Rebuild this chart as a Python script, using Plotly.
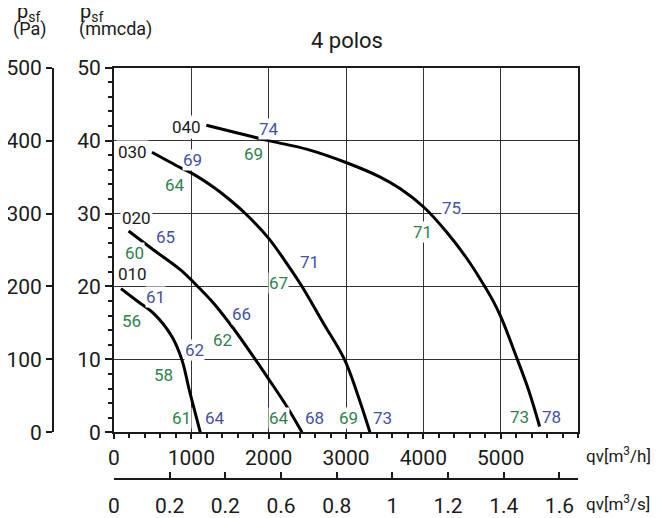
import plotly.graph_objects as go

# ---------------- data (qv in m3/h, psf in mmcda) ----------------
c010_q = [90, 300, 512, 750, 879, 978, 1116]
c010_p = [19.7, 18.0, 16.3, 13.1, 9.9, 5.6, 0.0]

c020_q = [189, 512, 857, 1073, 1288, 1547, 1827, 2000, 2237, 2431]
c020_p = [27.6, 25.0, 22.3, 20.1, 17.7, 14.2, 10.0, 7.3, 3.5, 0.0]

c030_q = [491, 857, 1009, 1288, 1461, 1698, 2000, 2237, 2431, 2700, 2980, 3150, 3310]
c030_p = [38.4, 36.3, 35.5, 33.6, 32.2, 30.0, 26.6, 23.1, 20.0, 15.1, 10.0, 5.2, 0.0]

c040_q = [1194, 2000, 2500, 3000, 3443, 3703, 4004, 4306, 4565, 4737, 4888, 5000, 5219, 5361, 5504]
c040_p = [42.1, 40.0, 38.8, 37.0, 35.0, 33.4, 30.9, 27.4, 23.8, 21.0, 18.3, 15.9, 9.9, 5.8, 0.8]

curves = [(c010_q, c010_p), (c020_q, c020_p), (c030_q, c030_p), (c040_q, c040_p)]

# labels: text, qv, psf
model_labels = [("010", 240, 21.7), ("020", 297, 29.4), ("030", 240, 38.5), ("040", 935, 41.9)]
blue_labels = [("61", 543, 18.5), ("62", 1042, 11.3), ("64", 1310, 2.0),
               ("65", 672, 26.8), ("66", 1655, 16.2), ("68", 2590, 2.0),
               ("69", 1009, 37.4), ("71", 2526, 23.4), ("73", 3466, 2.0),
               ("74", 1999, 41.6), ("75", 4358, 30.7), ("78", 5661, 2.06)]
green_labels = [("56", 220, 15.3), ("58", 641, 7.9), ("61", 870, 2.0),
                ("60", 266, 24.6), ("62", 1397, 12.6), ("64", 2138, 2.0),
                ("64", 793, 33.9), ("67", 2129, 20.5), ("69", 3034, 2.0),
                ("69", 1805, 38.2), ("71", 3983, 27.5), ("73", 5245, 2.06)]

x_ticks = [0, 1000, 2000, 3000, 4000, 5000]
y_ticks = [0, 10, 20, 30, 40, 50]
pa_ticks = [0, 100, 200, 300, 400, 500]
ms_ticks = [0, 0.2, 0.4, 0.6, 0.8, 1.0, 1.2, 1.4, 1.6]
ms_ticktext = ["0", "0.2", "0.2", "0.6", "0.8", "1", "1.2", "1.4", "1.6"]

QMAX = 6000
PMAX = 50

# ---------------- figure ----------------
OFF = 8                      # page body margin in the browser
W, H = 660 - OFF, 518 - OFF
ML, MR, MT, MB = 32, 82, 12, 12
PW, PH = W - ML - MR, H - MT - MB

def px(sx):
    """screen x (px) -> paper x"""
    return (sx - OFF - ML) / PW

def py(sy):
    """screen y (px) -> paper y"""
    return (H - MB - (sy - OFF)) / PH

FONT = "Roboto, 'DejaVu Sans', sans-serif"
INK = "#1a1a1a"
GRID = "#333333"
BLUE = "#4650a8"
GREEN = "#2f7f52"

fig = go.Figure()
for q, p in curves:
    fig.add_trace(go.Scatter(x=q, y=p, mode="lines",
                             line=dict(color="black", width=3, shape="spline", smoothing=1.0),
                             showlegend=False, hoverinfo="skip"))
# helper traces so that the extra axes are drawn
fig.add_trace(go.Scatter(x=[0, QMAX / 3600], y=[0, 0], xaxis="x2", yaxis="y",
                         mode="markers", marker=dict(opacity=0), showlegend=False, hoverinfo="skip"))
fig.add_trace(go.Scatter(x=[0, 0], y=[0, PMAX * 10], xaxis="x", yaxis="y2",
                         mode="markers", marker=dict(opacity=0), showlegend=False, hoverinfo="skip"))

dom_x = [px(114), px(578)]
dom_y = [py(432.3), py(67.7)]

TF = dict(size=21)

fig.update_layout(
    width=W, height=H,
    margin=dict(l=ML, r=MR, t=MT, b=MB, autoexpand=False),
    paper_bgcolor="white", plot_bgcolor="white",
    font=dict(family=FONT, size=20, color=INK),
    xaxis=dict(domain=dom_x, range=[0, QMAX], tickmode="array", tickvals=x_ticks,
               showgrid=True, gridcolor=GRID, gridwidth=1, automargin=False,
               showline=True, linecolor=INK, linewidth=2, mirror=True,
               ticks="outside", ticklen=5, tickwidth=1.5, tickcolor=INK,
               minor=dict(tickmode="linear", tick0=0, dtick=200, ticklen=4,
                          tickwidth=1.5, tickcolor=INK, showgrid=False),
               zeroline=False, tickfont=TF),
    yaxis=dict(domain=dom_y, range=[0, PMAX], tickmode="array", tickvals=y_ticks,
               showgrid=True, gridcolor=GRID, gridwidth=1, automargin=False,
               showline=True, linecolor=INK, linewidth=2, mirror=True,
               ticks="outside", ticklen=7, tickwidth=1.5, tickcolor=INK,
               minor=dict(tickmode="linear", tick0=0, dtick=2, ticklen=4,
                          tickwidth=1.5, tickcolor=INK, showgrid=False),
               zeroline=False, tickfont=TF),
    yaxis2=dict(overlaying="y", anchor="free", position=px(53), side="left",
                range=[0, PMAX * 10], tickmode="array", tickvals=pa_ticks,
                showgrid=False, zeroline=False, showline=True, linecolor=INK, linewidth=2,
                ticks="outside", ticklen=6, tickwidth=1.5, tickcolor=INK, automargin=False,
                tickfont=TF),
    xaxis2=dict(overlaying="x", anchor="free", position=py(479), side="bottom",
                range=[0, QMAX / 3600], tickmode="array", tickvals=ms_ticks,
                ticktext=ms_ticktext, automargin=False, ticklabelstandoff=8,
                showgrid=False, zeroline=False, showline=True, linecolor=INK, linewidth=2,
                ticks="inside", ticklen=6, tickwidth=1.5, tickcolor=INK,
                tickfont=TF),
)

ann = []
for t, q, p in model_labels:
    ann.append(dict(x=q, y=p, xref="x", yref="y", text=t, showarrow=False,
                    font=dict(size=17, color=INK), bgcolor="white", borderpad=1))
for t, q, p in blue_labels:
    ann.append(dict(x=q, y=p, xref="x", yref="y", text=t, showarrow=False,
                    font=dict(size=17, color=BLUE), bgcolor="white", borderpad=0))
for t, q, p in green_labels:
    ann.append(dict(x=q, y=p, xref="x", yref="y", text=t, showarrow=False,
                    font=dict(size=17, color=GREEN), bgcolor="white", borderpad=0))

def paper_text(text, sx, sy, size, xanchor="left"):
    return dict(x=px(sx), y=py(sy), xref="paper", yref="paper", text=text,
                showarrow=False, xanchor=xanchor, yanchor="middle",
                font=dict(size=size, color=INK))

ann += [
    paper_text("4 polos", 346.7, 41, 22, xanchor="center"),
    paper_text("p<sub>sf</sub>", 15, 12, 20),
    paper_text("(Pa)", 11, 29, 18),
    paper_text("p<sub>sf</sub>", 78, 12, 20),
    paper_text("(mmcda)", 77, 29, 18),
    paper_text("qv[m<sup>3</sup>/h]", 584, 455, 17),
    paper_text("qv[m<sup>3</sup>/s]", 584, 503, 17),
]
fig.update_layout(annotations=ann)

fig.write_html("out.html")
